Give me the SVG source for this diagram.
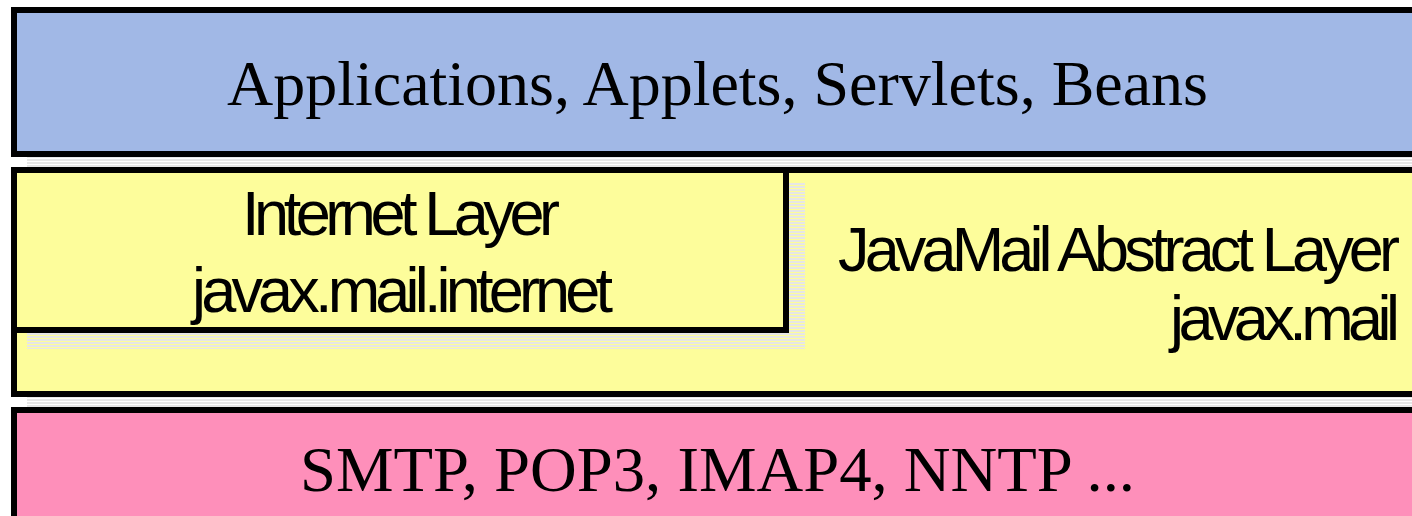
<svg xmlns="http://www.w3.org/2000/svg" width="1412" height="516" viewBox="0 0 1412 516">
<style>
.box{stroke:#000;stroke-width:6}
.serif{font-family:"Liberation Serif","Times New Roman",serif;font-size:64px;fill:#000}
.sans{font-family:"Liberation Sans",Arial,sans-serif;font-size:63px;fill:#000}
</style>
<defs>
<pattern id="stripes" patternUnits="userSpaceOnUse" width="4" height="3">
<rect x="0" y="0" width="4" height="2" fill="#e6e6e6"/>
</pattern>
</defs>
<rect width="1412" height="516" fill="#fff"/>
<g id="applications">
<rect x="27" y="23" width="1400" height="150" fill="url(#stripes)"/>
<rect class="box" x="14" y="10" width="1410" height="144" fill="#a1b8e6"/>
<text class="serif" x="227" y="105" textLength="981" lengthAdjust="spacingAndGlyphs">Applications, Applets, Servlets, Beans</text>
</g>
<g id="javamail-abstract-layer">
<rect x="27" y="183" width="1400" height="230" fill="url(#stripes)"/>
<rect class="box" x="14" y="170" width="1410" height="224" fill="#fdfd9b"/>
<text class="sans" x="1400" y="271" text-anchor="end" textLength="562" lengthAdjust="spacing">JavaMail Abstract Layer</text>
<text class="sans" x="1400" y="340" text-anchor="end" textLength="230" lengthAdjust="spacing">javax.mail</text>
</g>
<g id="internet-layer">
<rect x="27" y="183" width="778" height="166" fill="url(#stripes)"/>
<rect class="box" x="14" y="170" width="772" height="160" fill="#fdfd9b"/>
<text class="sans" x="242" y="235" textLength="318" lengthAdjust="spacing">Internet Layer</text>
<text class="sans" x="192" y="312" textLength="421" lengthAdjust="spacing">javax.mail.internet</text>
</g>
<g id="protocols">
<rect class="box" x="14" y="410" width="1410" height="200" fill="#fe8fba"/>
<text class="serif" x="300" y="491" textLength="835" lengthAdjust="spacingAndGlyphs">SMTP, POP3, IMAP4, NNTP ...</text>
</g>
<g id="connectors"/>
</svg>
